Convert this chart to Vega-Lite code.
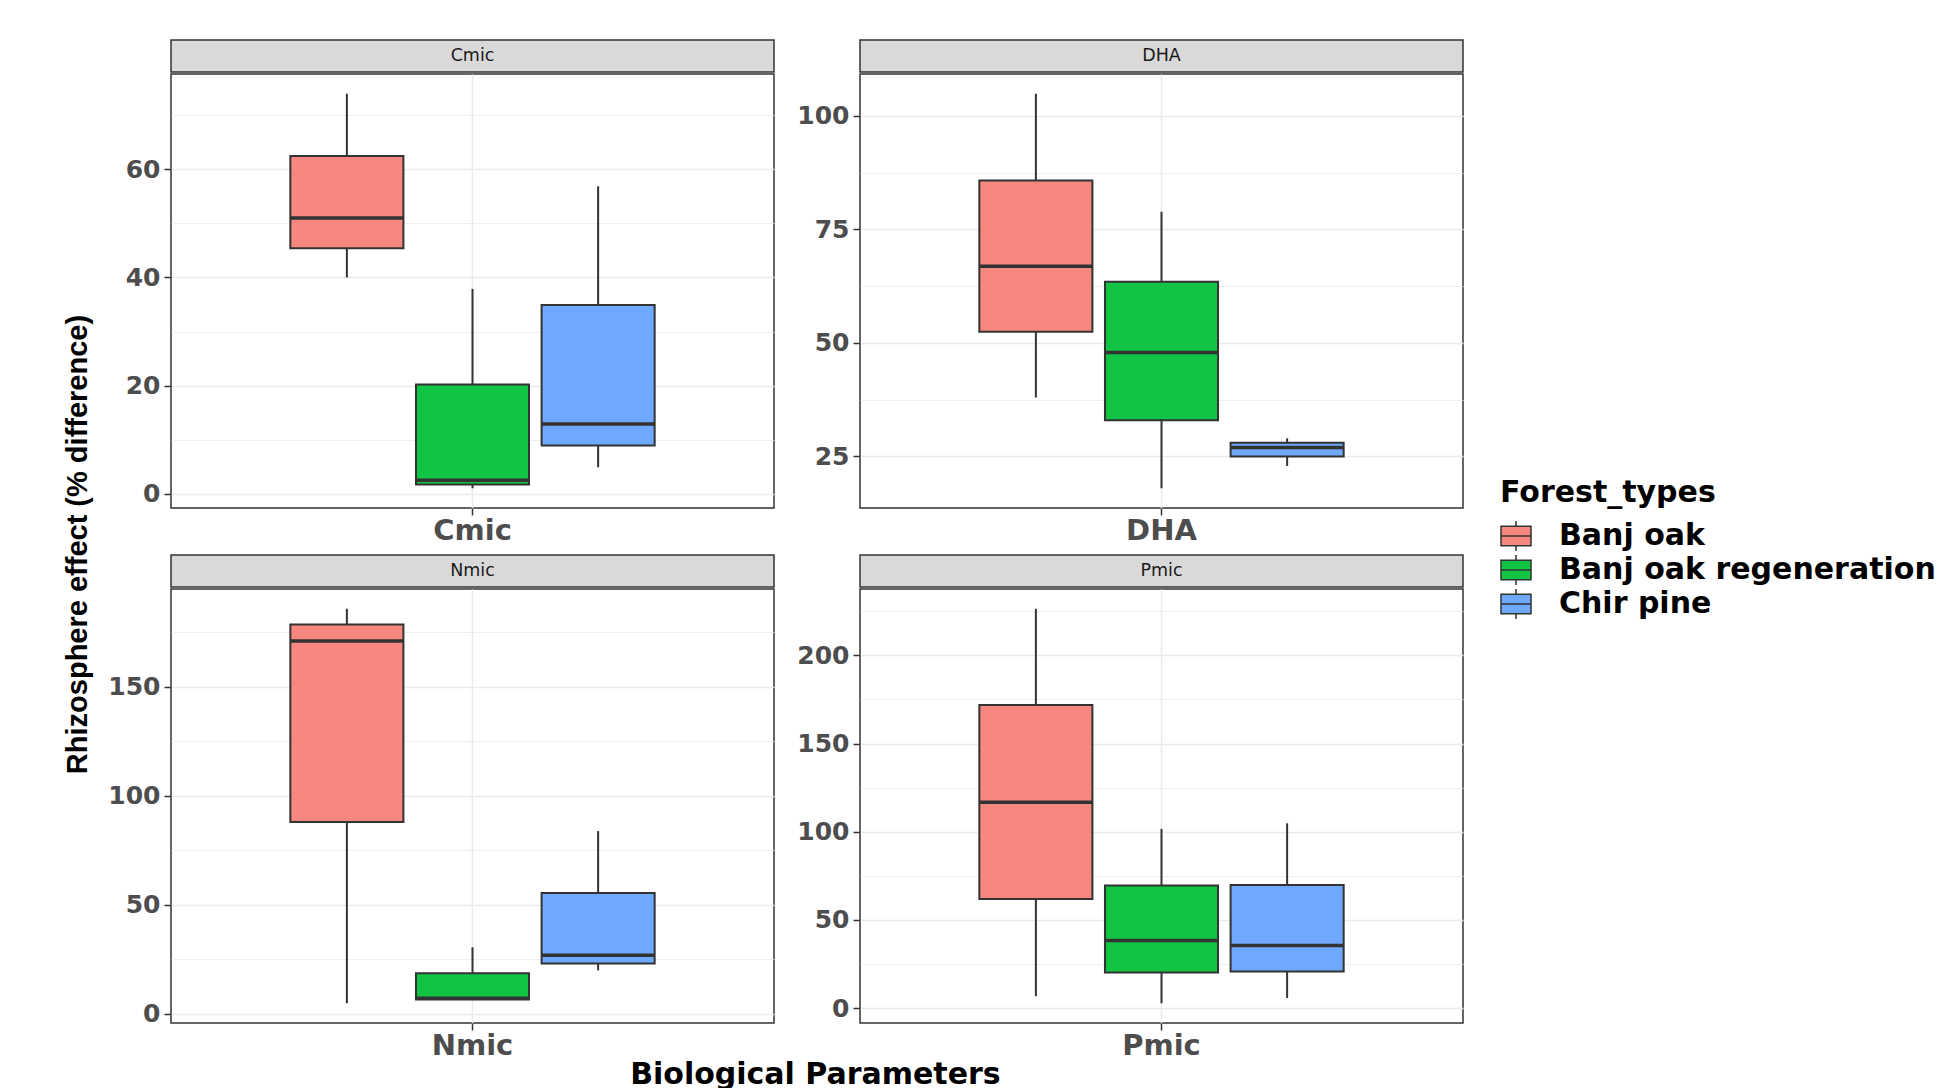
{
  "$schema": "https://vega.github.io/schema/vega-lite/v6.json",
  "background": "white",
  "padding": {"left": 64, "top": 39, "right": 5, "bottom": 0},
  "datasets": {
    "boxes": [
      {"param": "Cmic", "forest": "Banj oak", "min": 40.0, "q1": 45.4, "median": 51.0, "q3": 62.5, "max": 74.0},
      {"param": "Cmic", "forest": "Banj oak regeneration", "min": 1.0, "q1": 1.7, "median": 2.5, "q3": 20.2, "max": 37.9},
      {"param": "Cmic", "forest": "Chir pine", "min": 4.9, "q1": 8.9, "median": 12.9, "q3": 34.9, "max": 56.9},
      {"param": "DHA", "forest": "Banj oak", "min": 38.0, "q1": 52.5, "median": 66.9, "q3": 85.8, "max": 104.9},
      {"param": "DHA", "forest": "Banj oak regeneration", "min": 18.0, "q1": 33.0, "median": 47.9, "q3": 63.5, "max": 78.9},
      {"param": "DHA", "forest": "Chir pine", "min": 22.9, "q1": 25.0, "median": 27.0, "q3": 28.0, "max": 29.0},
      {"param": "Nmic", "forest": "Banj oak", "min": 4.8, "q1": 88.0, "median": 171.0, "q3": 178.6, "max": 185.8},
      {"param": "Nmic", "forest": "Banj oak regeneration", "min": 6.2, "q1": 6.5, "median": 7.1, "q3": 18.6, "max": 30.5},
      {"param": "Nmic", "forest": "Chir pine", "min": 19.9, "q1": 23.1, "median": 26.8, "q3": 55.4, "max": 83.8},
      {"param": "Pmic", "forest": "Banj oak", "min": 6.7, "q1": 61.9, "median": 116.7, "q3": 171.8, "max": 226.4},
      {"param": "Pmic", "forest": "Banj oak regeneration", "min": 2.8, "q1": 20.2, "median": 38.3, "q3": 69.6, "max": 101.6},
      {"param": "Pmic", "forest": "Chir pine", "min": 5.8, "q1": 20.8, "median": 35.5, "q3": 69.8, "max": 104.8}
    ],
    "params": [{"param": "Cmic"}, {"param": "DHA"}, {"param": "Nmic"}, {"param": "Pmic"}]
  },
  "title": {"text": "Rhizosphere effect (% difference)", "orient": "left", "anchor": "middle", "frame": "bounds", "font": "Liberation Sans", "fontSize": 29, "fontWeight": "bold", "color": "black", "offset": 14, "dx": 20},
  "vconcat": [
    {
      "title": {"text": "Biological Parameters", "orient": "bottom", "anchor": "middle", "frame": "bounds", "font": "DejaVu Sans", "fontSize": 30, "fontWeight": "bold", "color": "black", "offset": -3, "dx": 30},
      "columns": 2,
      "spacing": {"row": 6, "column": 21},
      "concat": [
        {
          "vconcat": [
            {"width": 603, "height": 32, "data": {"name": "params"}, "transform": [{"filter": "datum.param === 'Cmic'"}], "view": {"fill": "#D9D9D9", "stroke": "#333333", "strokeWidth": 1.5}, "mark": {"type": "text", "font": "DejaVu Sans", "fontSize": 17.5, "color": "#1A1A1A"}, "encoding": {"text": {"field": "param"}, "y": {"field": "param", "type": "nominal", "axis": {"labels": false, "ticks": false, "domain": false, "grid": false, "title": null}}}},
            {
              "width": 603, "height": 434,
              "data": {"name": "boxes"},
              "transform": [{"filter": "datum.param === 'Cmic'"}],
              "encoding": {
                "x": {"field": "param", "type": "nominal", "title": null, "scale": {"paddingInner": 0, "paddingOuter": 0}},
                "xOffset": {"field": "forest", "type": "nominal", "scale": {"domain": ["Banj oak", "Banj oak regeneration", "Chir pine"], "paddingInner": 0.1, "paddingOuter": 0.95}}
              },
              "layer": [
                {"mark": {"type": "rule", "color": "#333333", "strokeWidth": 2}, "encoding": {"y": {"field": "min", "type": "quantitative", "title": null, "scale": {"domain": [-2.65, 77.65], "nice": false, "zero": false}, "axis": {"values": [0, 10, 20, 30, 40, 50, 60, 70], "labelExpr": "datum.value % 20 === 0 ? datum.label : ''", "tickOpacity": {"condition": {"test": "datum.value % 20 !== 0", "value": 0}, "value": 1}, "gridWidth": {"condition": {"test": "datum.value % 20 !== 0", "value": 0.8}, "value": 1.5}}}, "y2": {"field": "max"}}},
                {"mark": {"type": "bar", "stroke": "#333333", "strokeWidth": 2}, "encoding": {"y": {"field": "q1", "type": "quantitative", "title": null}, "y2": {"field": "q3"}, "fill": {"field": "forest", "type": "nominal", "title": "Forest_types", "scale": {"domain": ["Banj oak", "Banj oak regeneration", "Chir pine"], "range": ["#F8877F", "#12C444", "#6FA9FF"]}}}},
                {"mark": {"type": "bar", "stroke": "#333333", "strokeWidth": 3.5, "fillOpacity": 0}, "encoding": {"y": {"field": "median", "type": "quantitative", "title": null}, "y2": {"field": "median"}}}
              ]
            }
          ],
          "spacing": 0
        },
        {
          "vconcat": [
            {"width": 603, "height": 32, "data": {"name": "params"}, "transform": [{"filter": "datum.param === 'DHA'"}], "view": {"fill": "#D9D9D9", "stroke": "#333333", "strokeWidth": 1.5}, "mark": {"type": "text", "font": "DejaVu Sans", "fontSize": 17.5, "color": "#1A1A1A"}, "encoding": {"text": {"field": "param"}, "y": {"field": "param", "type": "nominal", "axis": {"labels": false, "ticks": false, "domain": false, "grid": false, "title": null}}}},
            {
              "width": 603, "height": 434,
              "data": {"name": "boxes"},
              "transform": [{"filter": "datum.param === 'DHA'"}],
              "encoding": {
                "x": {"field": "param", "type": "nominal", "title": null, "scale": {"paddingInner": 0, "paddingOuter": 0}},
                "xOffset": {"field": "forest", "type": "nominal", "scale": {"domain": ["Banj oak", "Banj oak regeneration", "Chir pine"], "paddingInner": 0.1, "paddingOuter": 0.95}}
              },
              "layer": [
                {"mark": {"type": "rule", "color": "#333333", "strokeWidth": 2}, "encoding": {"y": {"field": "min", "type": "quantitative", "title": null, "scale": {"domain": [13.65, 109.25], "nice": false, "zero": false}, "axis": {"values": [25, 37.5, 50, 62.5, 75, 87.5, 100], "labelExpr": "datum.value % 25 === 0 ? datum.label : ''", "tickOpacity": {"condition": {"test": "datum.value % 25 !== 0", "value": 0}, "value": 1}, "gridWidth": {"condition": {"test": "datum.value % 25 !== 0", "value": 0.8}, "value": 1.5}}}, "y2": {"field": "max"}}},
                {"mark": {"type": "bar", "stroke": "#333333", "strokeWidth": 2}, "encoding": {"y": {"field": "q1", "type": "quantitative", "title": null}, "y2": {"field": "q3"}, "fill": {"field": "forest", "type": "nominal", "title": "Forest_types", "scale": {"domain": ["Banj oak", "Banj oak regeneration", "Chir pine"], "range": ["#F8877F", "#12C444", "#6FA9FF"]}}}},
                {"mark": {"type": "bar", "stroke": "#333333", "strokeWidth": 3.5, "fillOpacity": 0}, "encoding": {"y": {"field": "median", "type": "quantitative", "title": null}, "y2": {"field": "median"}}}
              ]
            }
          ],
          "spacing": 0
        },
        {
          "vconcat": [
            {"width": 603, "height": 32, "data": {"name": "params"}, "transform": [{"filter": "datum.param === 'Nmic'"}], "view": {"fill": "#D9D9D9", "stroke": "#333333", "strokeWidth": 1.5}, "mark": {"type": "text", "font": "DejaVu Sans", "fontSize": 17.5, "color": "#1A1A1A"}, "encoding": {"text": {"field": "param"}, "y": {"field": "param", "type": "nominal", "axis": {"labels": false, "ticks": false, "domain": false, "grid": false, "title": null}}}},
            {
              "width": 603, "height": 434,
              "data": {"name": "boxes"},
              "transform": [{"filter": "datum.param === 'Nmic'"}],
              "encoding": {
                "x": {"field": "param", "type": "nominal", "title": null, "scale": {"paddingInner": 0, "paddingOuter": 0}},
                "xOffset": {"field": "forest", "type": "nominal", "scale": {"domain": ["Banj oak", "Banj oak regeneration", "Chir pine"], "paddingInner": 0.1, "paddingOuter": 0.95}}
              },
              "layer": [
                {"mark": {"type": "rule", "color": "#333333", "strokeWidth": 2}, "encoding": {"y": {"field": "min", "type": "quantitative", "title": null, "scale": {"domain": [-4.25, 194.85], "nice": false, "zero": false}, "axis": {"values": [0, 25, 50, 75, 100, 125, 150, 175], "labelExpr": "datum.value % 50 === 0 ? datum.label : ''", "tickOpacity": {"condition": {"test": "datum.value % 50 !== 0", "value": 0}, "value": 1}, "gridWidth": {"condition": {"test": "datum.value % 50 !== 0", "value": 0.8}, "value": 1.5}}}, "y2": {"field": "max"}}},
                {"mark": {"type": "bar", "stroke": "#333333", "strokeWidth": 2}, "encoding": {"y": {"field": "q1", "type": "quantitative", "title": null}, "y2": {"field": "q3"}, "fill": {"field": "forest", "type": "nominal", "title": "Forest_types", "scale": {"domain": ["Banj oak", "Banj oak regeneration", "Chir pine"], "range": ["#F8877F", "#12C444", "#6FA9FF"]}}}},
                {"mark": {"type": "bar", "stroke": "#333333", "strokeWidth": 3.5, "fillOpacity": 0}, "encoding": {"y": {"field": "median", "type": "quantitative", "title": null}, "y2": {"field": "median"}}}
              ]
            }
          ],
          "spacing": 0
        },
        {
          "vconcat": [
            {"width": 603, "height": 32, "data": {"name": "params"}, "transform": [{"filter": "datum.param === 'Pmic'"}], "view": {"fill": "#D9D9D9", "stroke": "#333333", "strokeWidth": 1.5}, "mark": {"type": "text", "font": "DejaVu Sans", "fontSize": 17.5, "color": "#1A1A1A"}, "encoding": {"text": {"field": "param"}, "y": {"field": "param", "type": "nominal", "axis": {"labels": false, "ticks": false, "domain": false, "grid": false, "title": null}}}},
            {
              "width": 603, "height": 434,
              "data": {"name": "boxes"},
              "transform": [{"filter": "datum.param === 'Pmic'"}],
              "encoding": {
                "x": {"field": "param", "type": "nominal", "title": null, "scale": {"paddingInner": 0, "paddingOuter": 0}},
                "xOffset": {"field": "forest", "type": "nominal", "scale": {"domain": ["Banj oak", "Banj oak regeneration", "Chir pine"], "paddingInner": 0.1, "paddingOuter": 0.95}}
              },
              "layer": [
                {"mark": {"type": "rule", "color": "#333333", "strokeWidth": 2}, "encoding": {"y": {"field": "min", "type": "quantitative", "title": null, "scale": {"domain": [-8.4, 237.6], "nice": false, "zero": false}, "axis": {"values": [0, 25, 50, 75, 100, 125, 150, 175, 200, 225], "labelExpr": "datum.value % 50 === 0 ? datum.label : ''", "tickOpacity": {"condition": {"test": "datum.value % 50 !== 0", "value": 0}, "value": 1}, "gridWidth": {"condition": {"test": "datum.value % 50 !== 0", "value": 0.8}, "value": 1.5}}}, "y2": {"field": "max"}}},
                {"mark": {"type": "bar", "stroke": "#333333", "strokeWidth": 2}, "encoding": {"y": {"field": "q1", "type": "quantitative", "title": null}, "y2": {"field": "q3"}, "fill": {"field": "forest", "type": "nominal", "title": "Forest_types", "scale": {"domain": ["Banj oak", "Banj oak regeneration", "Chir pine"], "range": ["#F8877F", "#12C444", "#6FA9FF"]}}}},
                {"mark": {"type": "bar", "stroke": "#333333", "strokeWidth": 3.5, "fillOpacity": 0}, "encoding": {"y": {"field": "median", "type": "quantitative", "title": null}, "y2": {"field": "median"}}}
              ]
            }
          ],
          "spacing": 0
        }
      ]
    }
  ],
  "config": {
    "view": {"stroke": "#333333", "strokeWidth": 1.5},
    "axisY": {"labelFont": "DejaVu Sans", "labelFontWeight": "bold", "labelFontSize": 25, "labelColor": "#4D4D4D", "tickColor": "#333333", "tickSize": 7, "tickWidth": 1.5, "labelPadding": 4, "domain": false, "grid": true, "gridColor": "#EBEBEB", "minExtent": 60, "maxExtent": 60},
    "axisX": {"labelFont": "DejaVu Sans", "labelFontWeight": "bold", "labelFontSize": 29, "labelColor": "#4D4D4D", "labelAngle": 0, "tickColor": "#333333", "tickSize": 7, "tickWidth": 1.5, "labelPadding": 1, "domain": false, "grid": true, "gridColor": "#EBEBEB", "gridWidth": 1.5, "bandPosition": 0.5, "minExtent": 39, "maxExtent": 39},
    "legend": {"orient": "none", "legendX": 1329, "legendY": 438, "padding": 0, "titleFont": "DejaVu Sans", "titleFontWeight": "bold", "titleFontSize": 30, "titleColor": "black", "titlePadding": 12, "titleLimit": 0, "labelLimit": 0, "labelFont": "DejaVu Sans", "labelFontWeight": "bold", "labelFontSize": 30, "labelColor": "black", "symbolType": "M-1,-0.65H1V0.65H-1Z M-1,0H1 M0,-0.65V-1 M0,0.65V1", "symbolSize": 900, "symbolStrokeColor": "#333333", "symbolStrokeWidth": 1.5, "symbolOpacity": 1, "labelOffset": 27, "rowPadding": -3}
  }
}
